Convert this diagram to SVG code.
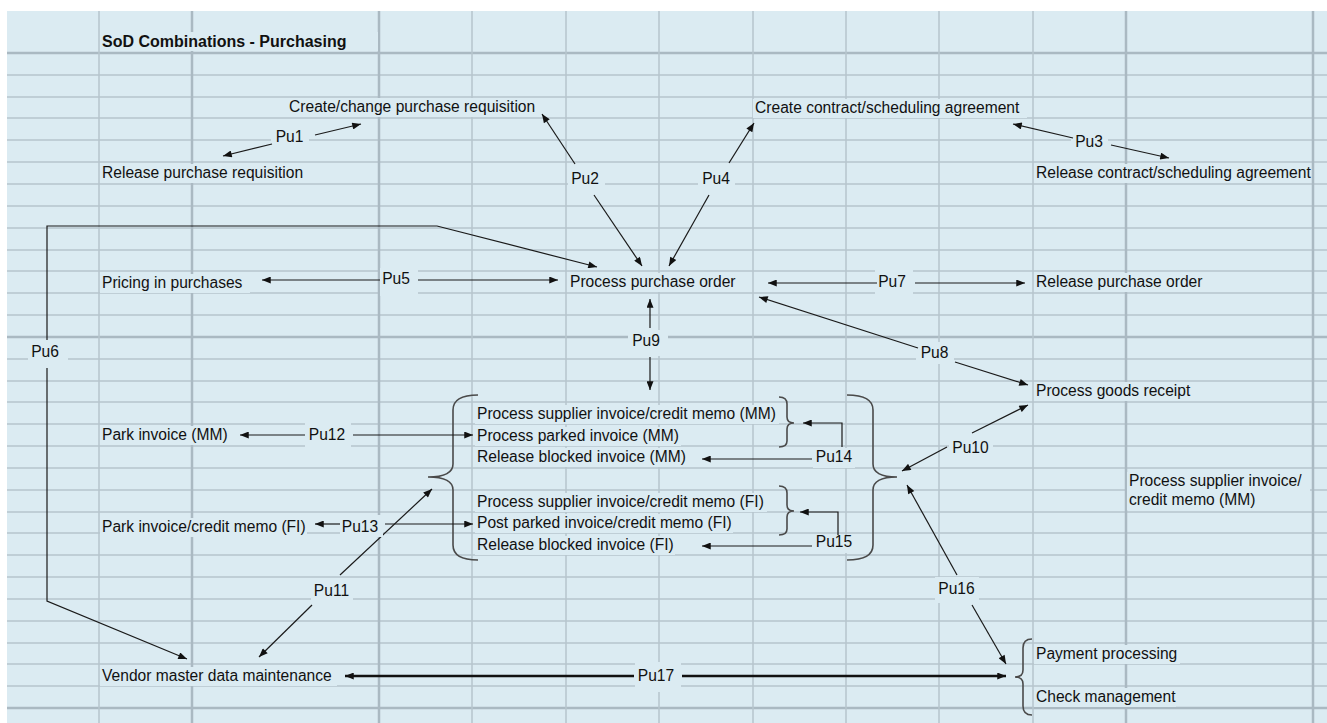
<svg xmlns="http://www.w3.org/2000/svg" width="1327" height="723" viewBox="0 0 1327 723">
<style>
.t{font-family:"Liberation Sans",Arial,sans-serif;font-size:15.6px;fill:#111}
.tb{font-family:"Liberation Sans",Arial,sans-serif;font-size:16px;font-weight:bold;fill:#111}
.lb{font-family:"Liberation Sans",Arial,sans-serif;font-size:15.6px;fill:#111;text-anchor:middle}
.m{fill:#DBEBF2}
.g{stroke:#B6C5CD;stroke-width:1.5;fill:none}
.gt{stroke:#AAB9C2;stroke-width:2.5;fill:none}
.c{stroke:#1a1a1a;stroke-width:1.2;fill:none;marker-end:url(#ah)}
.cn{stroke:#1a1a1a;stroke-width:1.2;fill:none}
.ct{stroke:#111;stroke-width:2.4;fill:none;marker-end:url(#ah)}
.br{stroke:#4a4a4a;stroke-width:1.6;fill:none}
</style>
<defs>
<marker id="ah" viewBox="0 0 10 8" refX="10" refY="4" markerWidth="10" markerHeight="7" markerUnits="userSpaceOnUse" orient="auto">
<path d="M0,0 L10,4 L0,8 z" fill="#111"/>
</marker>
</defs>
<rect x="0" y="0" width="1327" height="723" fill="#ffffff"/>
<g id="grid">
<rect x="7" y="11" width="1320" height="712" class="m"/>
<path class="g" d="M7,75H1327M7,97H1327M7,118H1327M7,140H1327M7,162H1327M7,184H1327M7,206H1327M7,228H1327M7,250H1327M7,271H1327M7,293H1327M7,315H1327M7,359H1327M7,381H1327M7,402H1327M7,424H1327M7,446H1327M7,468H1327M7,490H1327M7,512H1327M7,533H1327M7,555H1327M7,577H1327M7,599H1327M7,621H1327M7,643H1327M7,664H1327M7,686H1327"/>
<path class="gt" d="M7,53H1327M7,337H1327M7,708H1327"/>
<path class="g" d="M99,11V723M472,11V723M566,11V723M659,11V723M753,11V723M846,11V723M939,11V723M1033,11V723"/>
<path class="gt" d="M192,11V723M379,11V723M1126,11V723M1313,11V723"/>
</g>
<g id="title">
<rect class="m" x="100" y="32" width="278" height="19"/>
<text class="tb" x="102" y="47">SoD Combinations - Purchasing</text>
</g>
<g id="n-create-pr"><rect class="m" x="287" y="98" width="256" height="19"/><text class="t" x="289" y="112">Create/change purchase requisition</text></g>
<g id="n-release-pr"><rect class="m" x="100" y="164" width="208" height="19"/><text class="t" x="102" y="178">Release purchase requisition</text></g>
<g id="n-create-contract"><rect class="m" x="753" y="99" width="274" height="19"/><text class="t" x="755" y="113">Create contract/scheduling agreement</text></g>
<g id="n-release-contract"><rect class="m" x="1034" y="164" width="277" height="19"/><text class="t" x="1036" y="178">Release contract/scheduling agreement</text></g>
<g id="n-pricing"><rect class="m" x="100" y="274" width="150" height="19"/><text class="t" x="102" y="288">Pricing in purchases</text></g>
<g id="n-process-po"><rect class="m" x="568" y="273" width="176" height="19"/><text class="t" x="570" y="287">Process purchase order</text></g>
<g id="n-release-po"><rect class="m" x="1034" y="273" width="174" height="19"/><text class="t" x="1036" y="287">Release purchase order</text></g>
<g id="n-goods-receipt"><rect class="m" x="1034" y="382" width="162" height="19"/><text class="t" x="1036" y="396">Process goods receipt</text></g>
<g id="n-park-mm"><rect class="m" x="100" y="426" width="131" height="19"/><text class="t" x="102" y="440">Park invoice (MM)</text></g>
<g id="n-park-fi"><rect class="m" x="100" y="518" width="207" height="19"/><text class="t" x="102" y="532">Park invoice/credit memo (FI)</text></g>
<g id="n-invoice-group">
<rect class="m" x="475" y="405" width="304" height="19"/>
<rect class="m" x="475" y="427" width="206" height="19"/>
<rect class="m" x="475" y="448" width="212" height="19"/>
<rect class="m" x="475" y="493" width="292" height="19"/>
<rect class="m" x="475" y="514" width="258" height="19"/>
<rect class="m" x="475" y="536" width="200" height="19"/>
<text class="t" x="477" y="419">Process supplier invoice/credit memo (MM)</text>
<text class="t" x="477" y="441">Process parked invoice (MM)</text>
<text class="t" x="477" y="462">Release blocked invoice (MM)</text>
<text class="t" x="477" y="507">Process supplier invoice/credit memo (FI)</text>
<text class="t" x="477" y="528">Post parked invoice/credit memo (FI)</text>
<text class="t" x="477" y="550">Release blocked invoice (FI)</text>
<path class="br" d="M478,395 Q453,395 453,410 L453,464 Q453,477 428,477 Q453,477 453,490 L453,545 Q453,560 478,560"/>
<path class="br" d="M847,395 Q873,395 873,410 L873,464 Q873,477 897,477 Q873,477 873,490 L873,545 Q873,560 847,560"/>
<path class="br" d="M779,397 Q787,397 787,404 L787,417 Q787,423 794,423 Q787,423 787,429 L787,441 Q787,447 779,447"/>
<path class="br" d="M779,486 Q787,486 787,493 L787,505 Q787,511 794,511 Q787,511 787,517 L787,529 Q787,535 779,535"/>
</g>
<g id="n-supplier-mm">
<rect class="m" x="1127" y="472" width="183" height="38"/>
<text class="t" x="1129" y="486">Process supplier invoice/</text>
<text class="t" x="1129" y="505">credit memo (MM)</text>
</g>
<g id="n-vendor"><rect class="m" x="100" y="667" width="237" height="19"/><text class="t" x="102" y="681">Vendor master data maintenance</text></g>
<g id="n-payment">
<rect class="m" x="1034" y="645" width="146" height="19"/>
<rect class="m" x="1034" y="688" width="142" height="19"/>
<text class="t" x="1036" y="659">Payment processing</text>
<text class="t" x="1036" y="702">Check management</text>
<path class="br" d="M1032,639 Q1023,639 1023,648 L1023,670 Q1023,677 1015,677 Q1023,677 1023,684 L1023,706 Q1023,715 1032,715"/>
</g>
<g id="connectors">
<g id="pu1"><rect class="m" x="271" y="125" width="38" height="24"/><text class="lb" x="289.5" y="142">Pu1</text><path class="c" d="M315,135 L361,124"/><path class="c" d="M272,144 L223,156"/></g>
<g id="pu2"><rect class="m" x="568" y="168" width="37" height="24"/><text class="lb" x="585" y="184">Pu2</text><path class="c" d="M575,164 L542,114"/><path class="c" d="M594,195 L642,266"/></g>
<g id="pu4"><rect class="m" x="698" y="168" width="37" height="24"/><text class="lb" x="716" y="184">Pu4</text><path class="c" d="M729,163 L754,123"/><path class="c" d="M709,195 L669,266"/></g>
<g id="pu3"><rect class="m" x="1071" y="131" width="37" height="22"/><text class="lb" x="1089" y="147">Pu3</text><path class="c" d="M1073,138 L1013,124"/><path class="c" d="M1111,145 L1169,158"/></g>
<g id="pu5"><rect class="m" x="380" y="268" width="38" height="28"/><text class="lb" x="396" y="284">Pu5</text><path class="c" d="M380,280 L262,280"/><path class="c" d="M418,280 L558,280"/></g>
<g id="pu7"><rect class="m" x="875" y="270" width="38" height="27"/><text class="lb" x="892" y="287">Pu7</text><path class="c" d="M877,283 L768,283"/><path class="c" d="M915,283 L1025,283"/></g>
<g id="pu6"><rect class="m" x="28" y="340" width="40" height="28"/><text class="lb" x="45" y="357">Pu6</text><path class="c" d="M47,340 L47,226 L437,226 L597,267"/><path class="c" d="M47,368 L47,601 L187,659"/></g>
<g id="pu9"><rect class="m" x="628" y="330" width="40" height="26"/><text class="lb" x="646" y="346">Pu9</text><path class="c" d="M650,328 L650,299"/><path class="c" d="M650,357 L650,390"/></g>
<g id="pu8"><rect class="m" x="916" y="342" width="38" height="22"/><text class="lb" x="934.5" y="358">Pu8</text><path class="c" d="M918,348 L759,297"/><path class="c" d="M955,362 L1028,385"/></g>
<g id="pu10"><rect class="m" x="949" y="436" width="44" height="22"/><text class="lb" x="970.5" y="453">Pu10</text><path class="c" d="M972,433 L1028,405"/><path class="c" d="M947,447 L902,471"/></g>
<g id="pu16"><rect class="m" x="935" y="577" width="44" height="26"/><text class="lb" x="956.5" y="594">Pu16</text><path class="c" d="M957,575 L907,485"/><path class="c" d="M972,605 L1006,664"/></g>
<g id="pu17"><rect class="m" x="635" y="662" width="46" height="30"/><text class="lb" x="656" y="681">Pu17</text><path class="ct" d="M634,676 L345,676"/><path class="ct" d="M682,676 L1006,676"/></g>
<g id="pu11"><rect class="m" x="311" y="578" width="42" height="25"/><text class="lb" x="331.5" y="596">Pu11</text><path class="c" d="M340,575 L432,489"/><path class="c" d="M312,605 L259,657"/></g>
<g id="pu12"><rect class="m" x="305" y="423" width="46" height="24"/><text class="lb" x="327" y="440">Pu12</text><path class="c" d="M305,435 L240,435"/><path class="c" d="M353,435 L473,435"/></g>
<g id="pu13"><rect class="m" x="340" y="515" width="43" height="22"/><text class="lb" x="360" y="532">Pu13</text><path class="c" d="M340,524 L315,524"/><path class="c" d="M385,524 L473,524"/></g>
<g id="pu14"><rect class="m" x="813" y="448" width="42" height="20"/><text class="lb" x="834" y="462">Pu14</text><path class="c" d="M812,459 L702,459"/><path class="c" d="M842,447 L842,423 L803,423"/></g>
<g id="pu15"><rect class="m" x="813" y="535" width="42" height="18"/><text class="lb" x="834" y="547">Pu15</text><path class="c" d="M812,546 L702,546"/><path class="c" d="M838,535 L838,512 L800,512"/></g>
</g>
</svg>
